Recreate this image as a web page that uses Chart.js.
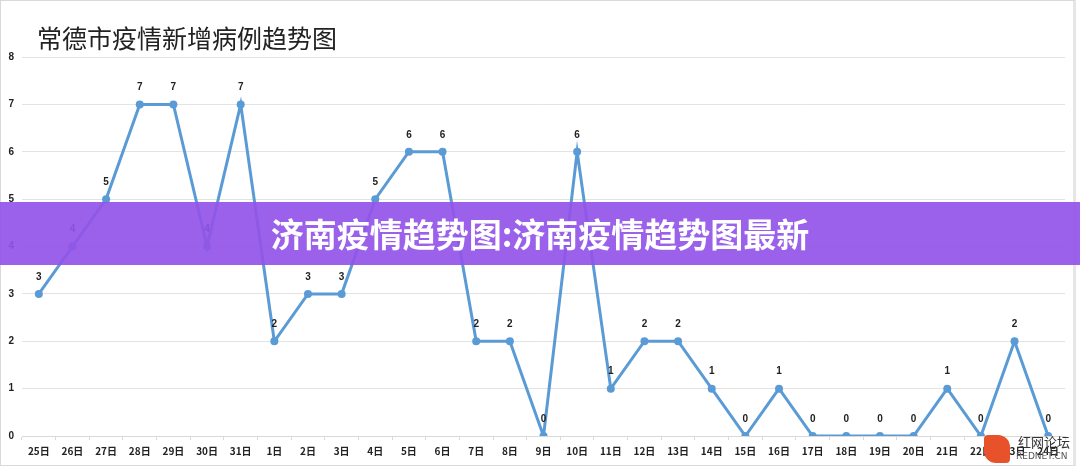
<!DOCTYPE html>
<html>
<head>
<meta charset="utf-8">
<script src="https://cdn.jsdelivr.net/npm/chart.js@4"></script>
<style>
  html, body { margin: 0; padding: 0; background: #fff; }
  #wrap { position: relative; width: 1080px; height: 468px; overflow: hidden; }
  #frame { position: absolute; left: 0; top: 0; width: 1076px; height: 466px; border: 1px solid #d9d9d9; border-right: 3px solid #e6e6e6; box-sizing: border-box; pointer-events: none; }
  #title { position: absolute; left: 37px; top: 19px; font: 25px "Noto Sans CJK SC", sans-serif; color: #222; white-space: nowrap; }
  #banner { position: absolute; left: 0; top: 202px; width: 1080px; height: 63px; background: rgba(146, 84, 232, 0.92); color: #fff; font: bold 33px "Noto Sans CJK SC", sans-serif; line-height: 63px; text-align: center; white-space: nowrap; }
  #mark { position: absolute; left: 984px; top: 432px; }
  #mark .cn { position: absolute; left: 34px; top: 0; font: 13px "Noto Sans CJK SC", sans-serif; color: #333; white-space: nowrap; }
  #mark .en { position: absolute; left: 32px; top: 19px; font: 9px "DejaVu Sans", sans-serif; color: #555; white-space: nowrap; }
  #mark .logo { position: absolute; left: 0; top: 3px; width: 26px; height: 28px; background: #e8522a; border-radius: 4px 12px 4px 12px; }
</style>
</head>
<body>
<div id="wrap">
  <canvas id="myChart" width="1080" height="468"></canvas>
  <div id="frame"></div>
  <div id="title">常德市疫情新增病例趋势图</div>
  <div id="banner">济南疫情趋势图:济南疫情趋势图最新</div>
  <div id="mark"><div class="logo"></div><div class="cn">红网论坛</div><div class="en">REDNET.CN</div></div>
</div>
<script>
const days = ['25日', '26日', '27日', '28日', '29日', '30日', '31日', '1日', '2日', '3日', '4日', '5日', '6日', '7日', '8日', '9日', '10日', '11日', '12日', '13日', '14日', '15日', '16日', '17日', '18日', '19日', '20日', '21日', '22日', '23日', '24日']
const newCases = [3, 4, 5, 7, 7, 4, 7, 2, 3, 3, 5, 6, 6, 2, 2, 0, 6, 1, 2, 2, 1, 0, 1, 0, 0, 0, 0, 1, 0, 2, 0]
const yTicks = [0, 1, 2, 3, 4, 5, 6, 7, 8]

// value labels above each point
const pointLabels = {
    id: 'pointLabels',
    afterDatasetsDraw: (chart) => {
        const { ctx } = chart
        const meta = chart.getDatasetMeta(0)
        ctx.save()
        ctx.font = 'bold 10px "Liberation Sans", sans-serif'
        ctx.fillStyle = '#222'
        ctx.textAlign = 'center'
        ctx.textBaseline = 'bottom'
        meta.data.forEach((pt, i) => {
            ctx.fillText(String(newCases[i]), pt.x, pt.y - 12)
        })
        ctx.restore()
    }
}

const ctx = document.getElementById('myChart')
new Chart(ctx, {
    type: 'line',
    data: {
        labels: days,
        datasets: [{
            label: '新增病例',
            data: newCases,
            borderColor: '#5b9bd5',
            backgroundColor: '#5b9bd5',
            borderWidth: 3,
            pointRadius: 4,
            pointBorderWidth: 0,
            tension: 0,
            fill: false
        }]
    },
    options: {
        responsive: false,
        animation: false,
        layout: { padding: { top: 57, right: 15, left: 0, bottom: 0 } },
        plugins: {
            legend: { display: false },
            tooltip: { enabled: false }
        },
        scales: {
            x: {
                offset: true,
                grid: { display: true, drawOnChartArea: false, offset: true, tickLength: 4, color: '#d9d9d9' },
                border: { color: '#d9d9d9' },
                ticks: {
                    color: '#222',
                    font: { family: '"Noto Sans CJK SC", sans-serif', size: 10, weight: 'bold' },
                    maxRotation: 0,
                    autoSkip: false,
                    padding: 5
                },
                afterFit: (s) => { s.height = 32 }
            },
            y: {
                min: 0,
                max: 8,
                afterBuildTicks: (s) => { s.ticks = yTicks.map(v => ({ value: v })) },
                grid: { color: '#e3e3e3', drawTicks: false },
                border: { display: false },
                ticks: {
                    color: '#222',
                    font: { family: '"Liberation Sans", sans-serif', size: 10, weight: 'bold' },
                    padding: 8
                },
                afterFit: (s) => { s.width = 22 }
            }
        }
    },
    plugins: [pointLabels]
})
</script>
</body>
</html>
